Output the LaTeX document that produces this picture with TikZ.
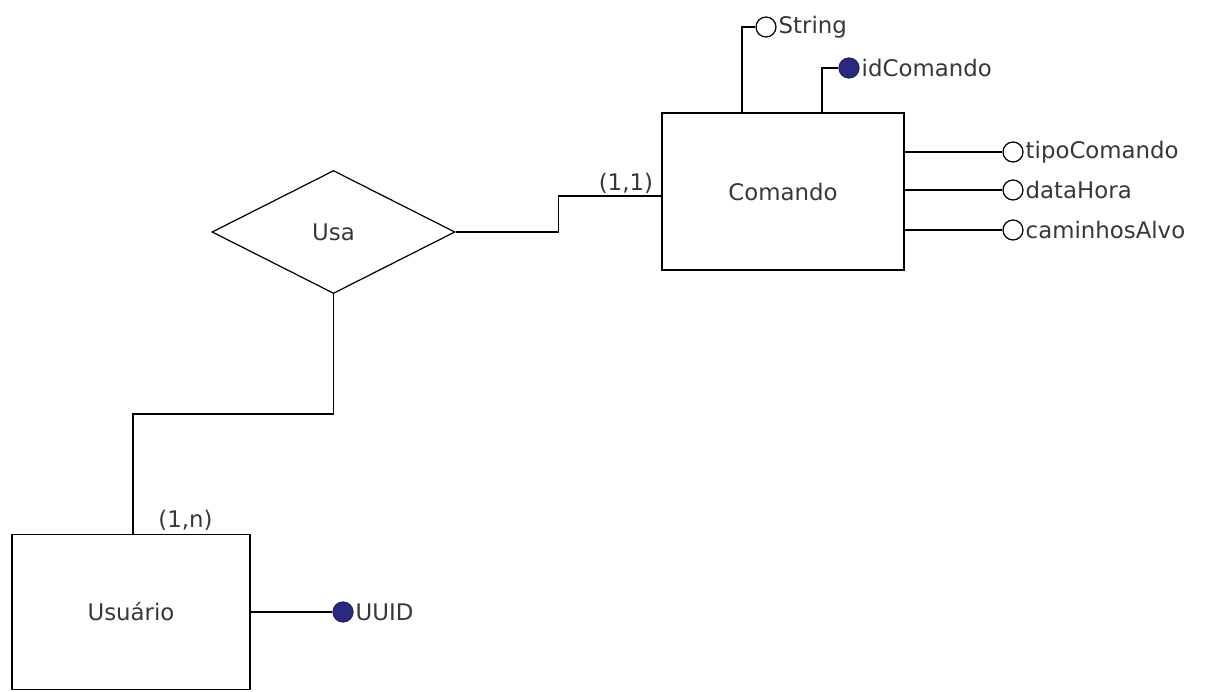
\documentclass[tikz,border=0pt]{standalone}
\usepackage{fontspec}
\setmainfont{DejaVu Sans}
\usetikzlibrary{shapes.geometric, positioning, calc}
\definecolor{keyblue}{RGB}{42,42,130}
\definecolor{txtgray}{RGB}{55,55,55}

\begin{document}
\begin{tikzpicture}[
    ent/.style={draw, line width=0.9pt, minimum width=4.85cm, minimum height=3.13cm,
                font=\fontsize{13}{15}\selectfont, text=txtgray},
    rel/.style={draw, diamond, line width=0.7pt, minimum width=4.86cm, minimum height=2.46cm,
                inner sep=0pt, font=\fontsize{13}{15}\selectfont, text=txtgray},
    attr/.style={draw, circle, line width=0.7pt, minimum size=0.4cm, inner sep=0pt},
    keyattr/.style={attr, fill=keyblue, draw=keyblue!80!black},
    attrlbl/.style={anchor=west, inner sep=1pt, font=\fontsize{13}{15}\selectfont, text=txtgray},
    card/.style={inner sep=1.5pt, font=\fontsize{13}{15}\selectfont, text=txtgray},
    conn/.style={line width=0.8pt}
  ]
  \useasboundingbox (0,0) rectangle (24.1,-13.82);

  % entities and relationship
  \node[ent] (comando) at (15.66, -3.83) {Comando};
  \node[ent, minimum width=4.76cm, minimum height=3.1cm] (usuario) at (2.62, -12.24) {Usuário};
  \node[rel] (usa) at (6.67, -4.64) {Usa};

  % attributes of Comando
  \node[attr] (str) at (15.32, -0.54) {};
  \node[attrlbl] at (str.east) {String};
  \node[keyattr] (idc) at (16.98, -1.36) {};
  \node[attrlbl] at (idc.east) {idComando};
  \foreach \lbl/\nm/\yy in {tipoComando/tipo/-3.04, dataHora/data/-3.80, caminhosAlvo/cam/-4.60} {
    \node[attr] (\nm) at (20.26, \yy) {};
    \node[attrlbl] at (\nm.east) {\lbl};
    \draw[conn] (comando.east |- \nm) -- (\nm.west);
  }
  \draw[conn] ([xshift=-0.82cm]comando.north) |- (str.west);
  \draw[conn] ([xshift=0.78cm]comando.north) |- (idc.west);

  % attribute of Usuario
  \node[keyattr] (uuid) at (6.86, -12.24) {};
  \node[attrlbl] at (uuid.east) {UUID};
  \draw[conn] (usuario.east) -- (uuid.west);

  % relationship lines
  \coordinate (cin) at ([yshift=-0.09cm]comando.west);
  \draw[conn] (usa.east) -- ++(2.06,0) |- (cin);
  \node[card, anchor=south east] at ([xshift=-0.1cm]cin) {(1,1)};

  \coordinate (uin) at ([xshift=0.04cm]usuario.north);
  \draw[conn] (usa.south) -- ++(0,-2.4) -| (uin);
  \node[card, anchor=south west] at ([xshift=0.45cm]uin) {(1,n)};
\end{tikzpicture}
\end{document}
